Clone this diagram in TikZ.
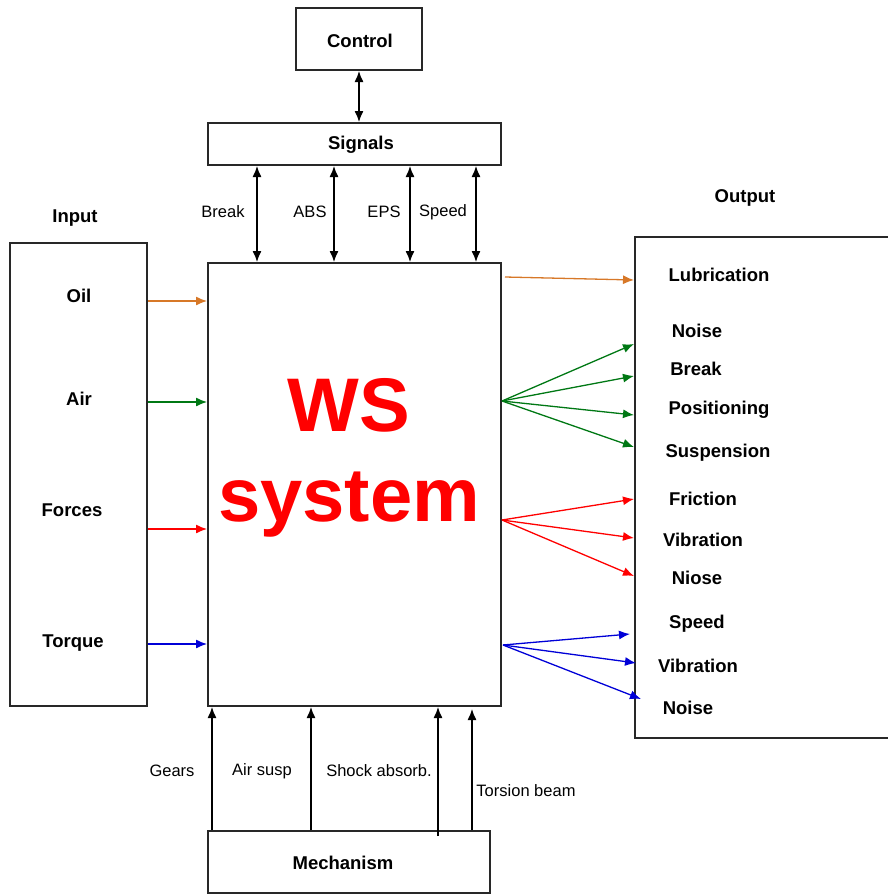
\documentclass[tikz,border=0pt]{standalone}
\usepackage{fontspec}
\setmainfont{Liberation Sans}
\usetikzlibrary{arrows.meta}
\definecolor{boxline}{RGB}{40,40,40}
\definecolor{oilc}{RGB}{215,120,40}
\definecolor{airc}{RGB}{0,120,20}
\definecolor{forc}{RGB}{255,0,0}
\definecolor{torc}{RGB}{0,0,215}
\begin{document}
\begin{tikzpicture}[x=1pt,y=-1pt,
  box/.style={draw=boxline, line width=2pt, fill=white, inner sep=0pt},
  lbl/.style={font=\fontsize{18.5}{21}\selectfont\bfseries, inner sep=0pt},
  sml/.style={font=\fontsize{16.5}{19}\selectfont, inner sep=0pt},
  arr/.style={line width=1.3pt, -{Latex[length=11pt,width=9pt]}},
  darr/.style={line width=1.3pt, {Latex[length=11pt,width=9pt]}-{Latex[length=11pt,width=9pt]}}]
\useasboundingbox (0,0) rectangle (888,895);
% boxes
\node[box, minimum width=126, minimum height=62] (control) at (359,39) {};
\node[lbl] (controlt) at (360,41) {Control};
\node[box, minimum width=293, minimum height=42] (signals) at (354.5,144) {};
\node[lbl] (signalst) at (361,145) {Signals};
\node[box, minimum width=293, minimum height=443] (main) at (354.5,484.5) {};
\node[box, minimum width=137, minimum height=463] (input) at (78.5,474.5) {};
\node[box, minimum width=258, minimum height=501] (output) at (764,487.5) {};
\node[box, minimum width=282, minimum height=62] (mech) at (349,862) {};
\node[lbl] (mecht) at (343,863) {Mechanism};
% WS system
\node[text=red, font=\fontsize{76}{90}\selectfont\bfseries, align=center, inner sep=0pt] (ws) at (349,458) {WS\\system};
% Control <-> Signals
\draw[darr] (control.south) -- (signals.north -| control.south);
% Signals <-> main
\draw[darr] (signals.south -| 257,0) -- (main.north -| 257,0);
\draw[darr] (signals.south -| 334,0) -- (main.north -| 334,0);
\draw[darr] (signals.south -| 410,0) -- (main.north -| 410,0);
\draw[darr] (signals.south -| 476,0) -- (main.north -| 476,0);
\node[sml] (sbreak) at (223,212) {Break};
\node[sml] (sabs) at (310,212) {ABS};
\node[sml] (seps) at (384,212) {EPS};
\node[sml] (sspeed) at (443,212) {Speed};
% input
\node[lbl] (inputt) at (75,218) {Input};
\node[lbl] (oil) at (79,296) {Oil};
\node[lbl] (air) at (79,399) {Air};
\node[lbl] (forces) at (72,510) {Forces};
\node[lbl] (torque) at (73,643) {Torque};
\draw[arr, oilc] (input.east |- 0,301) -- (main.west |- 0,301);
\draw[arr, airc] (input.east |- 0,402) -- (main.west |- 0,402);
\draw[arr, forc] (input.east |- 0,529) -- (main.west |- 0,529);
\draw[arr, torc] (input.east |- 0,644) -- (main.west |- 0,644);
% output
\node[lbl] (outputt) at (745,198) {Output};
\node[lbl] (o1) at (719,275) {Lubrication};
\node[lbl] (o2) at (697,331) {Noise};
\node[lbl] (o3) at (696,369) {Break};
\node[lbl] (o4) at (719,410) {Positioning};
\node[lbl] (o5) at (718,453) {Suspension};
\node[lbl] (o6) at (703,499) {Friction};
\node[lbl] (o7) at (703,540) {Vibration};
\node[lbl] (o8) at (697,578) {Niose};
\node[lbl] (o9) at (697,624) {Speed};
\node[lbl] (o10) at (698,666) {Vibration};
\node[lbl] (o11) at (688,708) {Noise};
\coordinate (oo) at (505,277);
\coordinate (og) at (502,401);
\coordinate (or) at (502,520);
\coordinate (ob) at (503,645);
\draw[arr, oilc] (oo) -- (output.west |- 0,280);
\draw[arr, airc] (og) -- (output.west |- 0,344);
\draw[arr, airc] (og) -- (output.west |- 0,376);
\draw[arr, airc] (og) -- (output.west |- 0,415);
\draw[arr, airc] (og) -- (output.west |- 0,447);
\draw[arr, forc] (or) -- (output.west |- 0,499);
\draw[arr, forc] (or) -- (output.west |- 0,538);
\draw[arr, forc] (or) -- (output.west |- 0,576);
\coordinate (b1) at (630,634);
\coordinate (b2) at (636,663);
\coordinate (b3) at (641,699);
\draw[arr, torc] (ob) -- (b1);
\draw[arr, torc] (ob) -- (b2);
\draw[arr, torc] (ob) -- (b3);
% mechanism arrows
\coordinate (shockbase) at (438,836);
\coordinate (torsiontip) at (472,709);
\draw[arr] (mech.north -| 212,0) -- (main.south -| 212,0);
\draw[arr] (mech.north -| 311,0) -- (main.south -| 311,0);
\draw[arr] (shockbase) -- (main.south -| shockbase);
\draw[arr] (mech.north -| 472,0) -- (torsiontip);
\node[sml] (gears) at (172,771) {Gears};
\node[sml] (airsusp) at (262,771) {Air susp};
\node[sml] (shock) at (379,771) {Shock absorb.};
\node[sml] (torsion) at (526,791) {Torsion beam};
\end{tikzpicture}
\end{document}
